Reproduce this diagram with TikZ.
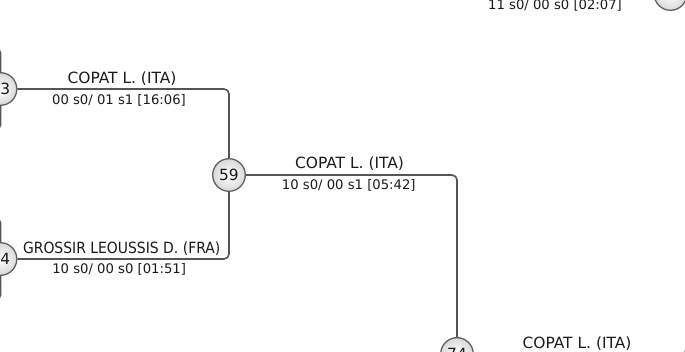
\documentclass[tikz,border=0pt]{standalone}
\usepackage{fontspec}
\setmainfont{DejaVu Sans}
\usepackage{graphicx}
\definecolor{linegray}{HTML}{555555}
\definecolor{circgray}{HTML}{606060}
\definecolor{textcol}{HTML}{1A1A1A}
\begin{document}
\begin{tikzpicture}[x=1pt,y=-1pt,
  edge/.style={draw=linegray, line width=1.6pt, rounded corners=5pt},
  match/.style={circle, draw=circgray, line width=1.3pt, minimum size=32.6pt,
    inner sep=0pt, inner color=white, outer color=gray!30,
    font=\fontsize{15.4}{16}\selectfont, text=textcol},
  pname/.style={anchor=base, inner sep=0pt, text=textcol,
    font=\fontsize{15.45}{16}\selectfont},
  pscore/.style={anchor=base, inner sep=0pt, text=textcol,
    font=\fontsize{13.2}{14}\selectfont}]
\useasboundingbox (0,0) rectangle (685,352);
\clip (0,0) rectangle (685,352);
% match circles
\node[match] (m3) at (0.5,89) {\phantom{4}3};
\node[match] (m4) at (0.5,259) {\phantom{4}4};
\node[match] (m59) at (229,175) {59};
\node[match] (m74) at (457,354) {74};
\node[match] (mtr) at (670.5,-6) {};
% free ends of connectors outside the frame
\coordinate (c3a) at (-120,48);
\coordinate (c3b) at (-120,130);
\coordinate (c4a) at (-120,218);
\coordinate (c4b) at (-120,300);
\coordinate (p74) at (686.3,120);
\coordinate (ctr) at (457,-80);
% connectors
\draw[edge] (c3a) -| (m3);
\draw[edge] (c3b) -| (m3);
\draw[edge] (c4a) -| (m4);
\draw[edge] (c4b) -| (m4);
\draw[edge] (m3) -| (m59);
\draw[edge] (m4) -| (m59);
\draw[edge] (m59) -| (m74);
\draw[edge] (m74) -| (p74);
\draw[edge] (ctr) |- (mtr);
% labels
\node[pname] (n1) at (122,83.3) {COPAT L. (ITA)};
\node[pscore] (s1) at (119,104.3) {00 s0/ 01 s1 [16:06]};
\node[pname] (n2) at (121.7,253.3) {\scalebox{0.902}[1]{GROSSIR LEOUSSIS D. (FRA)}};
\node[pscore] (s2) at (119.2,274) {10 s0/ 00 s0 [01:51]};
\node[pname] (n3) at (349.5,168.3) {COPAT L. (ITA)};
\node[pscore] (s3) at (348.8,189.3) {10 s0/ 00 s1 [05:42]};
\node[pname] (n4) at (577,348.3) {COPAT L. (ITA)};
\node[pscore] (s4) at (555,9.3) {11 s0/ 00 s0 [02:07]};
\end{tikzpicture}
\end{document}
